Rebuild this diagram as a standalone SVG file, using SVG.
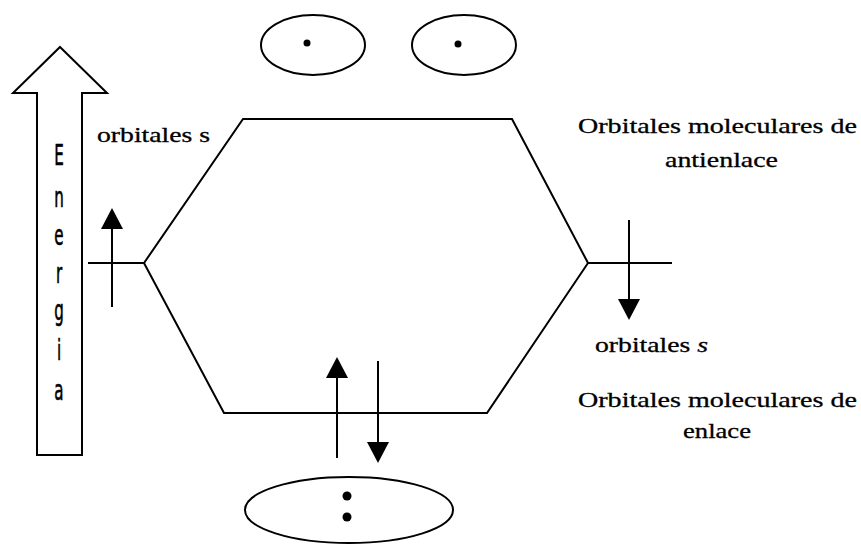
<svg xmlns="http://www.w3.org/2000/svg" width="861" height="546" viewBox="0 0 861 546">
<style>
.ln{stroke:#000;stroke-width:2;fill:none}
.lbl{font-family:"Liberation Serif","Times New Roman",serif;font-size:21px;fill:#000;stroke:#000;stroke-width:0.3}
.en{font-family:"DejaVu Sans Condensed","DejaVu Sans",sans-serif;font-size:28px;fill:#000;stroke:#000;stroke-width:0.6;text-anchor:middle}
.dot{fill:#000}
</style>
<defs>
<marker id="ah" markerUnits="userSpaceOnUse" markerWidth="22" markerHeight="22" refX="0" refY="11" orient="auto" viewBox="0 0 22 22">
<path d="M0,0 L21,11 L0,22 z" fill="#000"/>
</marker>
</defs>
<rect width="861" height="546" fill="#fff"/>
<g id="energia">
<polygon class="ln" points="60,47 107,93 82,93 82,455 37,455 37,93 13,93"/>
<text class="en" transform="translate(59,165) scale(0.6,1)">E</text>
<text class="en" transform="translate(59,207) scale(0.6,1)">n</text>
<text class="en" transform="translate(59,245) scale(0.6,1)">e</text>
<text class="en" transform="translate(59,283) scale(0.6,1)">r</text>
<text class="en" transform="translate(59,320) scale(0.6,1)">g</text>
<text class="en" transform="translate(59,360) scale(0.6,1)">i</text>
<text class="en" transform="translate(59,400) scale(0.6,1)">a</text>
</g>
<g id="orbital-antienlace-1">
<ellipse class="ln" cx="313" cy="45" rx="52" ry="30"/>
<circle class="dot" cx="307" cy="43" r="3.5"/>
</g>
<g id="orbital-antienlace-2">
<ellipse class="ln" cx="464" cy="45" rx="52" ry="30"/>
<circle class="dot" cx="458" cy="44" r="3.5"/>
</g>
<g id="orbital-enlace">
<ellipse class="ln" cx="349" cy="510" rx="104" ry="33"/>
<circle class="dot" cx="347" cy="496" r="4.5"/>
<circle class="dot" cx="347" cy="517" r="4.5"/>
</g>
<g id="connectors">
<polyline class="ln" points="88,263 144,263 243,119 512,119 588,263 672,263"/>
<polyline class="ln" points="144,263 224,413 487,413 588,263"/>
<line class="ln" x1="112" y1="307" x2="112" y2="229" marker-end="url(#ah)"/>
<line class="ln" x1="629" y1="220" x2="629" y2="299" marker-end="url(#ah)"/>
<line class="ln" x1="337" y1="458" x2="337" y2="378" marker-end="url(#ah)"/>
<line class="ln" x1="378" y1="361" x2="378" y2="442" marker-end="url(#ah)"/>
</g>
<g id="labels">
<text class="lbl" x="97" y="142" textLength="113" lengthAdjust="spacingAndGlyphs">orbitales s</text>
<text class="lbl" x="578" y="133" textLength="279" lengthAdjust="spacingAndGlyphs">Orbitales moleculares de</text>
<text class="lbl" x="665" y="167" textLength="113" lengthAdjust="spacingAndGlyphs">antienlace</text>
<text class="lbl" x="595" y="352" textLength="113" lengthAdjust="spacingAndGlyphs">orbitales <tspan font-style="italic">s</tspan></text>
<text class="lbl" x="578" y="407" textLength="279" lengthAdjust="spacingAndGlyphs">Orbitales moleculares de</text>
<text class="lbl" x="683" y="438" textLength="68" lengthAdjust="spacingAndGlyphs">enlace</text>
</g>
</svg>
